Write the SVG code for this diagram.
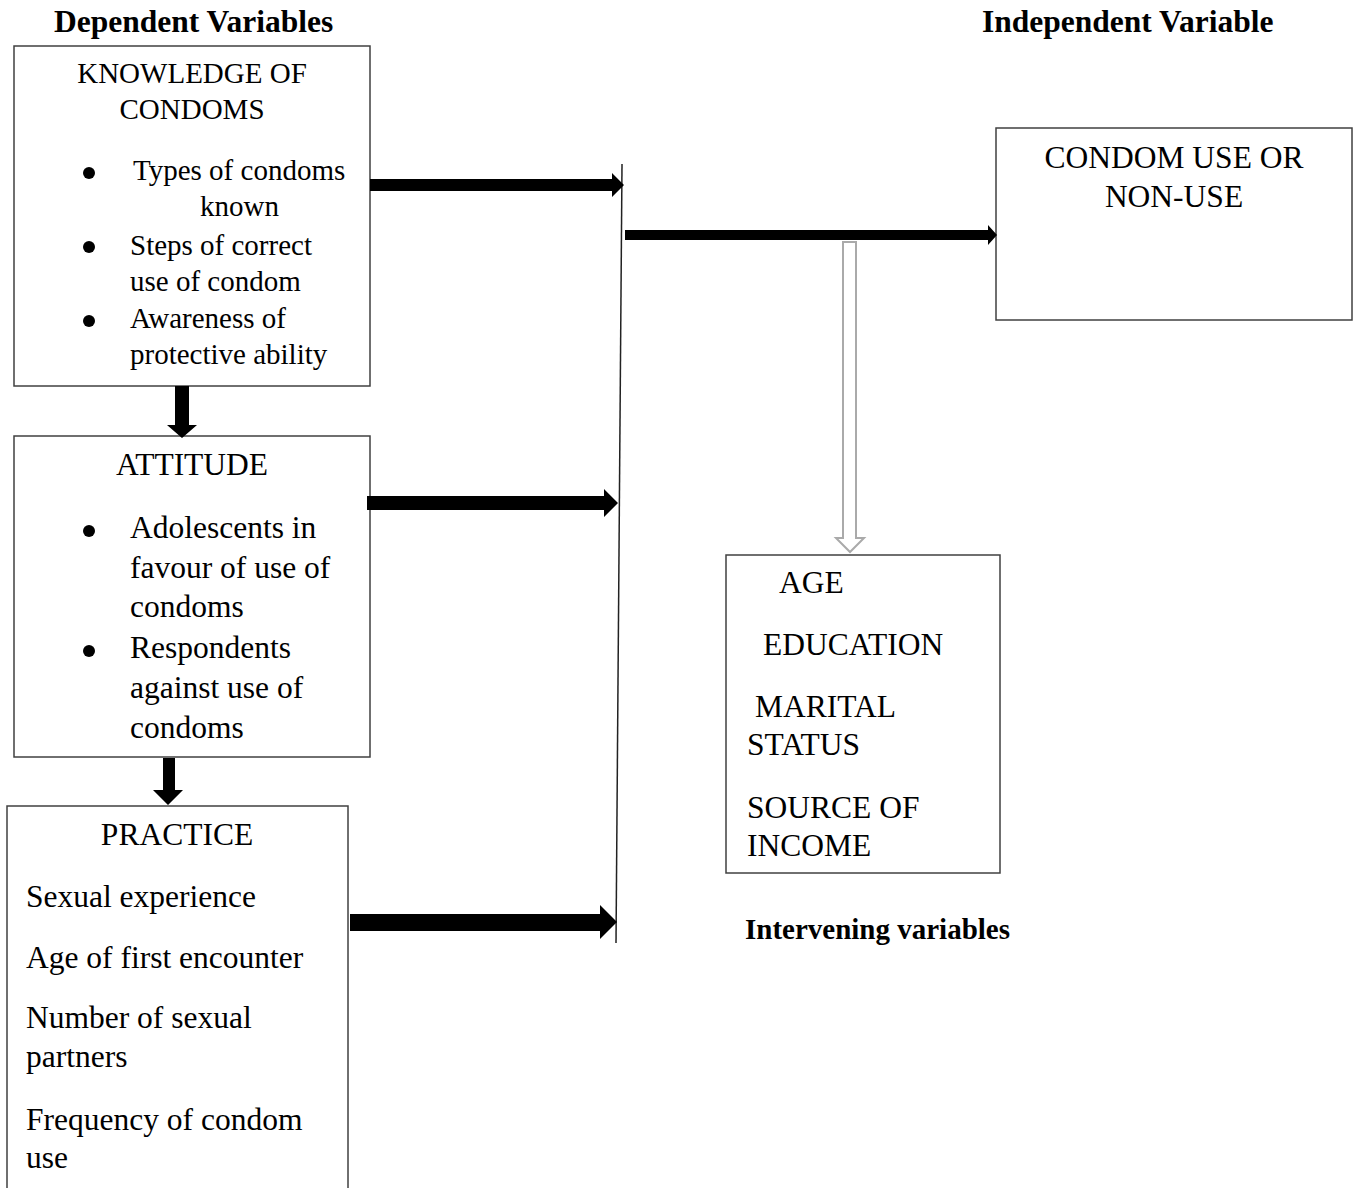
<svg xmlns="http://www.w3.org/2000/svg" width="1355" height="1188" viewBox="0 0 1355 1188">
<style>
.box{fill:#fff;stroke:#404040;stroke-width:1.5}
.t{font-family:"Liberation Serif","Times New Roman",serif;fill:#000}
.s29{font-size:29px}
.s32{font-size:31.5px}
.h{font-family:"Liberation Serif","Times New Roman",serif;font-weight:bold;fill:#000}
.mid{text-anchor:middle}
.arr{fill:#000}
.hollow{fill:#fff;stroke:#aaa;stroke-width:2}
</style>
<rect width="1355" height="1188" fill="#fff"/>
<text class="h" x="54" y="32" font-size="31.5">Dependent Variables</text>
<text class="h" x="982" y="32" font-size="31.5">Independent Variable</text>

<g id="knowledge">
<rect class="box" x="14" y="46" width="356" height="340"/>
<text class="t s29 mid" x="192" y="83">KNOWLEDGE OF</text>
<text class="t s29 mid" x="192" y="119">CONDOMS</text>
<circle cx="89" cy="173" r="6"/>
<circle cx="89" cy="247" r="6"/>
<circle cx="89" cy="321" r="6"/>
<text class="t s29" x="133" y="180">Types of condoms</text>
<text class="t s29" x="200" y="216">known</text>
<text class="t s29" x="130" y="255">Steps of correct</text>
<text class="t s29" x="130" y="291">use of condom</text>
<text class="t s29" x="130" y="328">Awareness of</text>
<text class="t s29" x="130" y="364">protective ability</text>
</g>

<g id="attitude">
<rect class="box" x="14" y="436" width="356" height="321"/>
<text class="t s32 mid" x="192" y="475">ATTITUDE</text>
<circle cx="89" cy="531" r="6"/>
<circle cx="89" cy="651" r="6"/>
<text class="t s32" x="130" y="538">Adolescents in</text>
<text class="t s32" x="130" y="578">favour of use of</text>
<text class="t s32" x="130" y="617">condoms</text>
<text class="t s32" x="130" y="658">Respondents</text>
<text class="t s32" x="130" y="698">against use of</text>
<text class="t s32" x="130" y="738">condoms</text>
</g>

<g id="practice">
<rect class="box" x="7" y="806" width="341" height="400"/>
<text class="t s32 mid" x="177" y="845">PRACTICE</text>
<text class="t s32" x="26" y="907">Sexual experience</text>
<text class="t s32" x="26" y="968">Age of first encounter</text>
<text class="t s32" x="26" y="1028">Number of sexual</text>
<text class="t s32" x="26" y="1067">partners</text>
<text class="t s32" x="26" y="1130">Frequency of condom</text>
<text class="t s32" x="26" y="1168">use</text>
</g>

<g id="outcome">
<rect class="box" x="996" y="128" width="356" height="192"/>
<text class="t s32 mid" x="1174" y="168">CONDOM USE OR</text>
<text class="t s32 mid" x="1174" y="207">NON-USE</text>
</g>

<g id="intervening">
<rect class="box" x="726" y="555" width="274" height="318"/>
<text class="t s32" x="779" y="593">AGE</text>
<text class="t s32" x="763" y="655">EDUCATION</text>
<text class="t s32" x="755" y="717">MARITAL</text>
<text class="t s32" x="747" y="755">STATUS</text>
<text class="t s32" x="747" y="818">SOURCE OF</text>
<text class="t s32" x="747" y="856">INCOME</text>
<text class="h" x="745" y="939" font-size="29">Intervening variables</text>
</g>

<g id="connectors">
<line x1="622" y1="164" x2="616" y2="943" stroke="#222" stroke-width="1.5"/>
<polygon class="arr" points="370,179 612,179 612,173 624,185 612,197 612,191 370,191"/>
<polygon class="arr" points="367,496 604,496 604,489 618,503 604,517 604,510 367,510"/>
<polygon class="arr" points="350,914 600,914 600,905 617,922 600,939 600,931 350,931"/>
<polygon class="arr" points="625,230 988,230 988,225 997,235 988,245 988,240 625,240"/>
<polygon class="arr" points="175,386 189,386 189,425 197,425 182,438 167,425 175,425"/>
<polygon class="arr" points="163,758 175,758 175,790 183,790 168,805 153,790 163,790"/>
<polygon class="hollow" points="843,242 856,242 856,538 864,538 850,552 836,538 843,538"/>
</g>
</svg>
